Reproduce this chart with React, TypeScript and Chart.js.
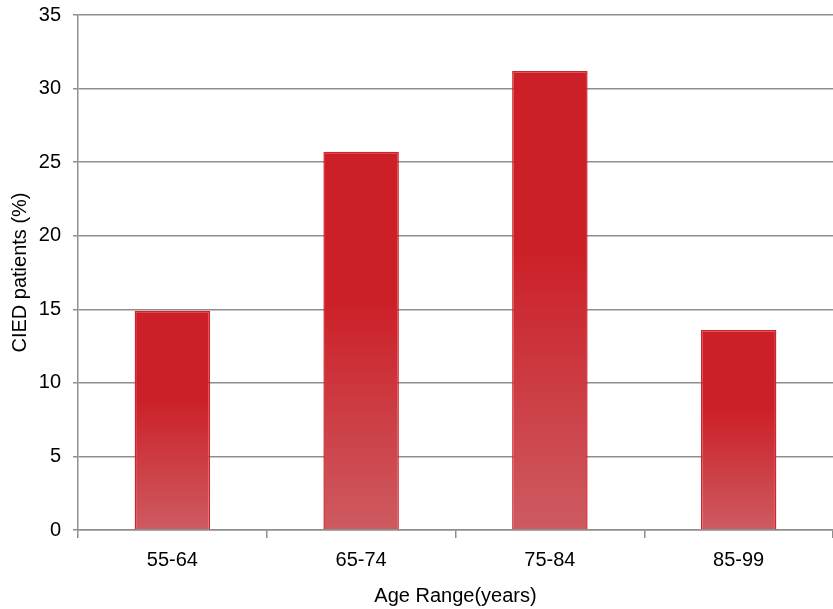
import React, { useEffect, useRef } from "react";
import { Chart, registerables } from "chart.js";

Chart.register(...registerables);

const categories = ["55-64", "65-74", "75-84", "85-99"];
const values = [14.9, 25.7, 31.2, 13.6];
const yTicks = [0, 5, 10, 15, 20, 25, 30, 35];
const yTitle = "CIED patients (%)";
const xTitle = "Age Range(years)";

export default function App() {
  const ref = useRef<HTMLCanvasElement>(null);
  useEffect(() => {
    document.body.style.margin = "0";
    const canvas = ref.current!;
    const font = { family: "'Liberation Sans', Arial, Helvetica, sans-serif", size: 20 };
    const grid = "#8e8e8e";
    const chart = new Chart(canvas, {
      type: "bar",
      data: {
        labels: categories,
        datasets: [
          {
            data: values,
            borderColor: "#d2232b",
            borderWidth: 1.5,
            barPercentage: 0.4,
            categoryPercentage: 1,
            backgroundColor: (ctx: any) => {
              const c = ctx.chart;
              const ys = c.scales && c.scales.y;
              if (!c.chartArea || !ys || ctx.raw == null) return "#cc1f27";
              const top = ys.getPixelForValue(ctx.raw);
              const bot = ys.getPixelForValue(0);
              if (!isFinite(top) || !isFinite(bot) || top === bot) return "#cc1f27";
              const g = c.ctx.createLinearGradient(0, top, 0, bot);
              g.addColorStop(0, "#cc1f28");
              g.addColorStop(0.4, "#cc2028");
              g.addColorStop(1, "#cd5b61");
              return g;
            },
          },
        ],
      },
      options: {
        animation: false,
        responsive: false,
        maintainAspectRatio: false,
        layout: { padding: { top: 15, right: 0, left: 0, bottom: 0 } },
        plugins: { legend: { display: false }, tooltip: { enabled: false } },
        scales: {
          x: {
            grid: { drawOnChartArea: false, drawTicks: true, tickLength: 8, color: grid, lineWidth: 1.5 },
            border: { color: grid, width: 1.5 },
            ticks: { color: "#000", font, padding: 10 },
            title: { display: true, text: xTitle, color: "#000", font, padding: { top: 0, bottom: 1 } },
            afterFit: (s: any) => { s.height = 79; s.paddingLeft = 0; s.paddingRight = 0; },
          },
          y: {
            min: 0,
            max: 35,
            afterBuildTicks: (s: any) => { s.ticks = yTicks.map((v) => ({ value: v })); },
            grid: { color: grid, lineWidth: 1.5, tickLength: 5 },
            border: { color: grid, width: 1.5 },
            ticks: { color: "#000", font, padding: 12 },
            title: { display: true, text: yTitle, color: "#000", font, padding: { top: 8, bottom: 0 } },
            afterFit: (s: any) => { s.width = 78; s.paddingTop = 0; s.paddingBottom = 0; },
          },
        },
      },
    });
    return () => chart.destroy();
  }, []);
  return (
    <div style={{ width: 833, height: 609 }}>
      <canvas ref={ref} width={833} height={609} style={{ display: "block" }} />
    </div>
  );
}
